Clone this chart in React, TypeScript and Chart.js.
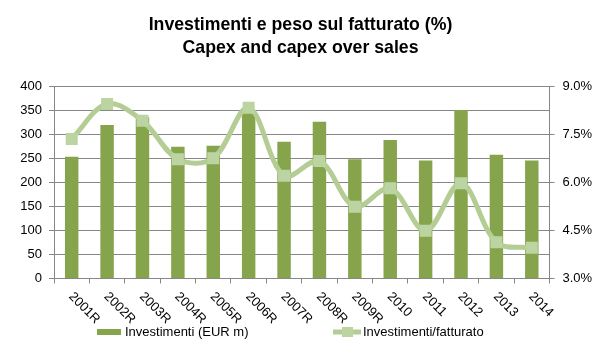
import React, { useEffect, useRef } from "react";
import { Chart, registerables } from "chart.js";

Chart.register(...registerables);

const titleLines = ["Investimenti e peso sul fatturato (%)", "Capex and capex over sales"];
const categories = ["2001R", "2002R", "2003R", "2004R", "2005R", "2006R", "2007R", "2008R", "2009R", "2010", "2011", "2012", "2013", "2014"];
const capexLabel = "Investimenti (EUR m)";
const capex = [253, 319, 335, 274, 276, 345, 284, 326, 248, 288, 245, 350, 257, 245];
const ratioLabel = "Investimenti/fatturato";
const capexOverSales = [7.35, 8.44, 7.92, 6.72, 6.75, 8.32, 6.2, 6.66, 5.24, 5.81, 4.49, 5.97, 4.13, 3.96];
const leftAxis = { min: 0, max: 400, step: 50 };
const rightAxis = { min: 3, max: 9, step: 1.5 };

const FONT = '"Liberation Sans", Arial, sans-serif';
const BAR_COLOR = "#86A44B";
const LINE_COLOR = "#B4CD94";
const MARKER_COLOR = "#BCD4A1";
const GRID_COLOR = "#878787";

const overlayPlugin = {
  id: "overlay",
  afterDraw(chart: any) {
    const ctx = chart.ctx;
    const xs = chart.scales.x;
    ctx.save();
    ctx.font = `13px ${FONT}`;
    ctx.fillStyle = "#000";
    ctx.textAlign = "left";
    ctx.textBaseline = "middle";
    categories.forEach((c, i) => {
      const x = xs.getPixelForValue(i);
      ctx.save();
      ctx.translate(x - 1, xs.top + 16);
      ctx.rotate(Math.PI / 4);
      ctx.fillText(c, 0, 0);
      ctx.restore();
    });

    // legend
    const ly = 332;
    ctx.fillStyle = BAR_COLOR;
    ctx.fillRect(97, ly - 3, 24, 6);
    ctx.fillStyle = "#000";
    ctx.fillText(capexLabel, 125, ly);

    ctx.strokeStyle = LINE_COLOR;
    ctx.lineWidth = 5;
    ctx.beginPath();
    ctx.moveTo(333, ly);
    ctx.lineTo(361, ly);
    ctx.stroke();
    ctx.fillStyle = MARKER_COLOR;
    ctx.fillRect(342, ly - 5, 11, 10);
    ctx.fillStyle = "#000";
    ctx.fillText(ratioLabel, 363, ly);
    ctx.restore();
  },
};

export default function App() {
  const ref = useRef<HTMLCanvasElement>(null);
  useEffect(() => {
    if (!ref.current) return;
    const chart = new Chart(ref.current, {
      type: "bar",
      data: {
        labels: categories,
        datasets: [
          {
            type: "line",
            label: ratioLabel,
            data: capexOverSales,
            yAxisID: "y1",
            borderColor: LINE_COLOR,
            backgroundColor: MARKER_COLOR,
            borderWidth: 5,
            tension: 0.35,
            pointStyle: "rect",
            pointRadius: 8.5,
            pointBackgroundColor: MARKER_COLOR,
            pointBorderWidth: 0,
            order: 0,
          } as any,
          {
            type: "bar",
            label: capexLabel,
            data: capex,
            yAxisID: "y",
            backgroundColor: BAR_COLOR,
            categoryPercentage: 1,
            barPercentage: 0.38,
            order: 1,
          },
        ],
      },
      plugins: [overlayPlugin],
      options: {
        animation: false,
        responsive: true,
        maintainAspectRatio: false,
        layout: { padding: 0 },
        plugins: {
          legend: { display: false },
          tooltip: { enabled: false },
          title: {
            display: true,
            text: titleLines,
            color: "#000",
            font: { family: FONT, size: 17.7, weight: "bold", lineHeight: 1.3 },
            padding: { top: 14, bottom: 26 },
          },
        },
        scales: {
          x: {
            offset: true,
            grid: {
              offset: true,
              drawOnChartArea: false,
              drawTicks: true,
              tickLength: 5,
              color: GRID_COLOR,
            },
            border: { display: true, color: GRID_COLOR },
            ticks: { display: false },
            afterFit(scale: any) {
              scale.height = 76.5;
            },
          },
          y: {
            position: "left",
            min: leftAxis.min,
            max: leftAxis.max,
            ticks: {
              stepSize: leftAxis.step,
              color: "#000",
              font: { family: FONT, size: 13 },
              padding: 7,
            },
            grid: { color: GRID_COLOR, tickLength: 5 },
            border: { display: true, color: GRID_COLOR },
            afterFit(scale: any) {
              scale.width = 54;
            },
          },
          y1: {
            position: "right",
            min: rightAxis.min,
            max: rightAxis.max,
            ticks: {
              stepSize: rightAxis.step,
              color: "#000",
              font: { family: FONT, size: 13 },
              padding: 8,
              callback: (v: any) => Number(v).toFixed(1) + "%",
            },
            grid: { drawOnChartArea: false, color: GRID_COLOR, tickLength: 5 },
            border: { display: true, color: GRID_COLOR },
            afterFit(scale: any) {
              scale.width = 51.5;
            },
          },
        },
      },
    });
    return () => chart.destroy();
  }, []);
  return (
    <div style={{ position: "absolute", left: 0, top: 0, width: 601, height: 355 }}>
      <canvas ref={ref} />
    </div>
  );
}
